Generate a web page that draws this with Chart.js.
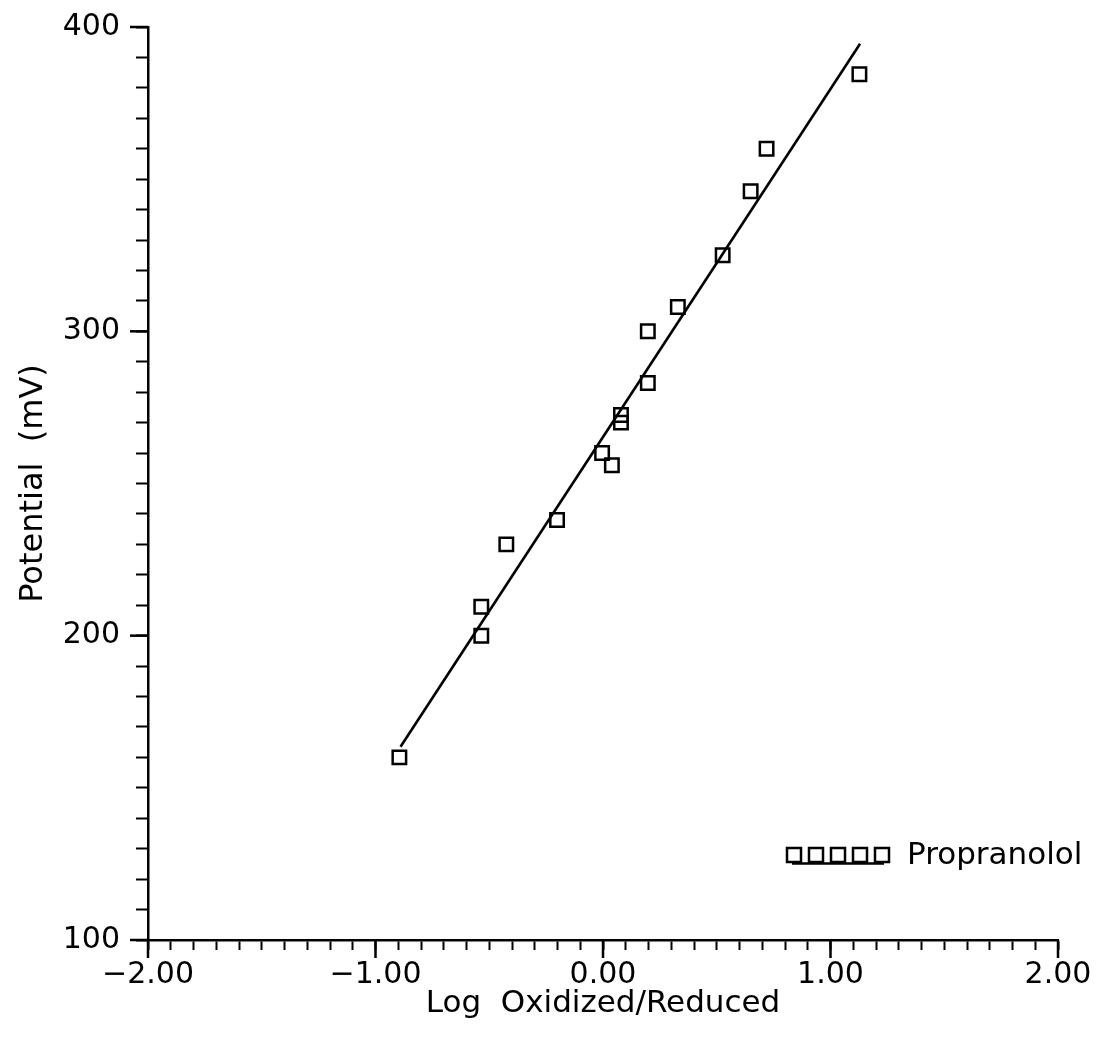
<!DOCTYPE html>
<html>
<head>
<meta charset="utf-8">
<script src="https://cdn.jsdelivr.net/npm/chart.js@4/dist/chart.umd.min.js"></script>
<style>
  html, body { margin: 0; padding: 0; background: #fff; }
  #chart { display: block; }
</style>
</head>
<body>
<canvas id="chart" width="1103" height="1038"></canvas>
<script>
// measured points
var logRatio = [-0.895, -0.535, -0.535, -0.425, -0.202, -0.004, 0.039, 0.079, 0.079, 0.197, 0.197, 0.329, 0.526, 0.649, 0.719, 1.127];
var potential = [160, 200, 209.5, 230, 238, 260, 256, 270, 272.5, 283, 300, 308, 325, 346, 360, 384.5];

// fitted line, end points
var fitX = [-0.89, 1.13];
var fitY = [163.5, 394.5];

var xMajorTicks = [-2, -1, 0, 1, 2];
var yMajorTicks = [100, 200, 300, 400];

var FONT = "'DejaVu Sans', sans-serif";

function toPoints(xs, ys) {
    return xs.map(function (x, i) { return { x: x, y: ys[i] }; });
}

function isMajor(v, list) {
    return list.some(function (m) { return Math.abs(m - v) < 1e-6; });
}

// longer ticks at the labelled values
var majorTicks = {
    id: 'majorTicks',
    afterDraw: function (chart) {
        var ctx = chart.ctx, xs = chart.scales.x, ys = chart.scales.y;
        ctx.save();
        ctx.strokeStyle = '#000';
        ctx.lineWidth = 2.5;
        xMajorTicks.forEach(function (v) {
            var px = xs.getPixelForValue(v);
            ctx.beginPath();
            ctx.moveTo(px, xs.top);
            ctx.lineTo(px, xs.top + 18);
            ctx.stroke();
        });
        yMajorTicks.forEach(function (v) {
            var py = ys.getPixelForValue(v);
            ctx.beginPath();
            ctx.moveTo(ys.right, py);
            ctx.lineTo(ys.right - 18, py);
            ctx.stroke();
        });
        ctx.restore();
    }
};

// legend drawn like the original: row of squares, underline, label
var boxLegend = {
    id: 'boxLegend',
    afterDraw: function (chart) {
        var ctx = chart.ctx;
        var x0 = 787, yc = 855, side = 14, gap = 22;
        ctx.save();
        ctx.strokeStyle = '#000';
        ctx.lineWidth = 2.5;
        for (var i = 0; i < 5; i++) {
            ctx.strokeRect(x0 + i * gap, yc - side / 2, side, side);
        }
        ctx.beginPath();
        ctx.moveTo(x0 + 5, yc + 8.5);
        ctx.lineTo(x0 + 4 * gap + side - 5, yc + 8.5);
        ctx.stroke();
        ctx.fillStyle = '#000';
        ctx.font = '31px ' + FONT;
        ctx.textBaseline = 'middle';
        ctx.fillText(chart.data.datasets[0].label, 907, yc + 1);
        ctx.restore();
    }
};

new Chart(document.getElementById('chart').getContext('2d'), {
    type: 'scatter',
    data: {
        datasets: [{
            label: 'Propranolol',
            data: toPoints(logRatio, potential),
            pointStyle: 'rect',
            pointRadius: 9.5,
            pointBorderWidth: 2.5,
            pointBorderColor: '#000',
            pointBackgroundColor: 'rgba(255,255,255,0)',
            showLine: false
        }, {
            label: 'fit',
            data: toPoints(fitX, fitY),
            showLine: true,
            borderColor: '#000',
            borderWidth: 2.6,
            pointRadius: 0
        }]
    },
    options: {
        responsive: false,
        animation: false,
        layout: { padding: { top: 27, right: 45, left: 0, bottom: 0 } },
        plugins: {
            legend: { display: false },
            tooltip: { enabled: false }
        },
        scales: {
            x: {
                type: 'linear',
                min: -2,
                max: 2,
                afterFit: function (s) { s.height = 98; },
                border: { color: '#000', width: 2.5 },
                grid: { drawOnChartArea: false, color: '#000', tickLength: 10, tickWidth: 2 },
                ticks: {
                    stepSize: 0.1,
                    autoSkip: false,
                    maxRotation: 0,
                    padding: 7,
                    color: '#000',
                    font: { family: FONT, size: 30 },
                    callback: function (v) {
                        return isMajor(v, xMajorTicks) ? v.toFixed(2).replace('-', '\u2212') : '';
                    }
                },
                title: {
                    display: true,
                    text: 'Log  Oxidized/Reduced',
                    color: '#000',
                    font: { family: FONT, size: 31, lineHeight: 1.1 },
                    padding: { top: 0, bottom: 17 }
                }
            },
            y: {
                type: 'linear',
                min: 100,
                max: 400,
                afterFit: function (s) { s.width = 148; },
                border: { color: '#000', width: 2.5 },
                grid: { drawOnChartArea: false, color: '#000', tickLength: 12, tickWidth: 2 },
                ticks: {
                    stepSize: 10,
                    autoSkip: false,
                    padding: 16,
                    color: '#000',
                    font: { family: FONT, size: 30, lineHeight: 0.7 },
                    callback: function (v) {
                        return isMajor(v, yMajorTicks) ? String(v) : '';
                    }
                },
                title: {
                    display: true,
                    text: 'Potential  (mV)',
                    color: '#000',
                    font: { family: FONT, size: 32, lineHeight: 1.1 },
                    padding: { top: 16, bottom: 0 }
                }
            }
        }
    },
    plugins: [majorTicks, boxLegend]
});
</script>
</body>
</html>
